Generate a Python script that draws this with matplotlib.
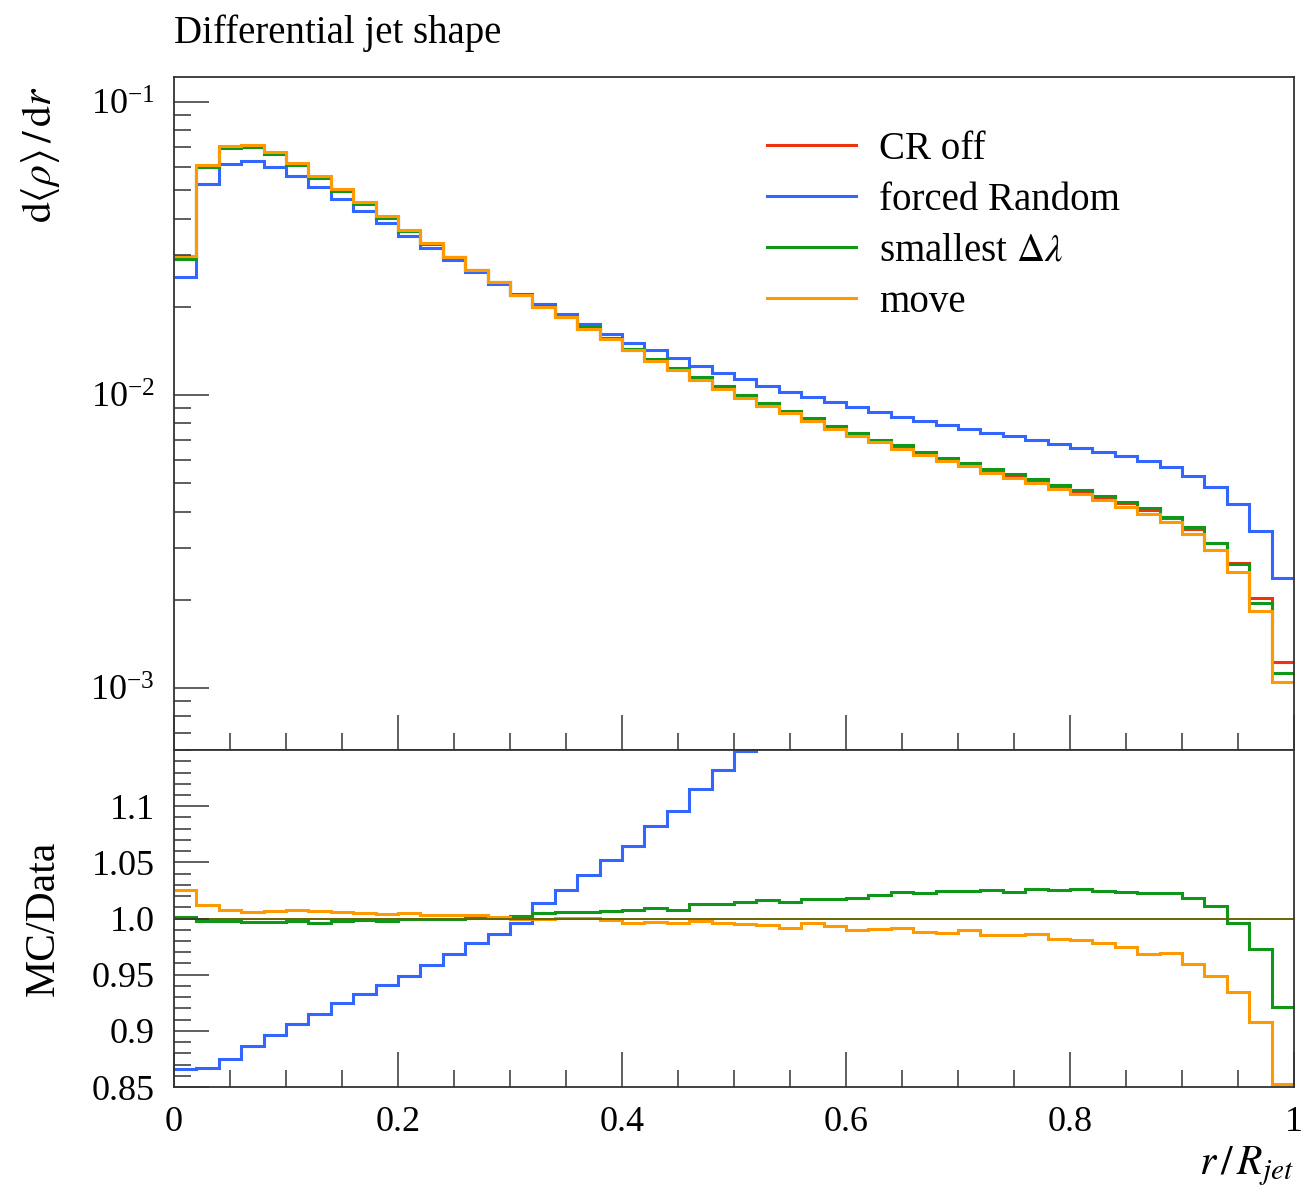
import numpy as np
import matplotlib
matplotlib.use('Agg')
import matplotlib.pyplot as plt
from matplotlib.ticker import MultipleLocator, LogLocator, NullFormatter

plt.rcParams['font.family'] = ['Liberation Serif', 'DejaVu Serif']
plt.rcParams['mathtext.fontset'] = 'stix'

# bin edges: 50 bins of width 0.02 in r/R_jet
edges = np.linspace(0, 1, 51)

# d<rho>/dr
cr_off = [0.0291, 0.0601, 0.0701, 0.0705, 0.0667, 0.0614, 0.0555, 0.0501, 0.0451, 0.0405,
          0.0364, 0.0329, 0.0295, 0.0266, 0.0243, 0.0220, 0.0200, 0.0184, 0.01683, 0.01551,
          0.01426, 0.01313, 0.01224, 0.0113, 0.01052, 0.00985, 0.00925, 0.00873, 0.00818, 0.00771,
          0.00732, 0.00696, 0.00661, 0.00631, 0.00604, 0.00579, 0.00551, 0.00528, 0.00507, 0.00488,
          0.00467, 0.00447, 0.00427, 0.00406, 0.0038, 0.0035, 0.00312, 0.00267, 0.00202, 0.00123]
forced_random = [0.0252, 0.0524, 0.0616, 0.0629, 0.0600, 0.0559, 0.0512, 0.0467, 0.0423, 0.0385,
                 0.0348, 0.0318, 0.0288, 0.0263, 0.0239, 0.0219, 0.0204, 0.01886, 0.01743, 0.0162,
                 0.0151, 0.0142, 0.01334, 0.01259, 0.01192, 0.01134, 0.01076, 0.01026, 0.00987, 0.00944,
                 0.0091, 0.00873, 0.00843, 0.00815, 0.00792, 0.00766, 0.00744, 0.00723, 0.00702, 0.00682,
                 0.0066, 0.0064, 0.00617, 0.00595, 0.00566, 0.0053, 0.00484, 0.00426, 0.00344, 0.00237]
smallest_dl = [0.0291, 0.0598, 0.0698, 0.0700, 0.0663, 0.0610, 0.0552, 0.0498, 0.0449, 0.0403,
               0.0363, 0.0328, 0.0295, 0.0266, 0.0243, 0.0221, 0.0201, 0.0185, 0.0171, 0.01565,
               0.01439, 0.0133, 0.01236, 0.0115, 0.01071, 0.00998, 0.00937, 0.0088, 0.00833, 0.00784,
               0.0074, 0.00704, 0.00675, 0.0064, 0.00611, 0.00586, 0.0056, 0.00537, 0.00516, 0.00494,
               0.00475, 0.00453, 0.00432, 0.0041, 0.00384, 0.00353, 0.00313, 0.00264, 0.00195, 0.001125]
move = [0.0299, 0.0610, 0.0710, 0.0713, 0.0675, 0.0621, 0.0560, 0.0506, 0.0455, 0.0407,
        0.0367, 0.0330, 0.0296, 0.0267, 0.0243, 0.0220, 0.01997, 0.0184, 0.01684, 0.01549,
        0.0142, 0.01309, 0.0122, 0.01128, 0.01048, 0.0098, 0.00919, 0.00866, 0.00815, 0.00766,
        0.00725, 0.0069, 0.00656, 0.00623, 0.00596, 0.00573, 0.00543, 0.0052, 0.005, 0.00479,
        0.00458, 0.00437, 0.00416, 0.00393, 0.00368, 0.00336, 0.00296, 0.00249, 0.00183, 0.00105]

# MC/Data ratios (CR off is the reference)
ratio_ref = [1.0] * 50
ratio_random = [0.866, 0.8667, 0.8747, 0.8866, 0.8964, 0.9065, 0.9149, 0.9244, 0.9324, 0.9405,
                0.9491, 0.9589, 0.9688, 0.9783, 0.9866, 0.9964, 1.0134, 1.0255, 1.039, 1.052,
                1.0649, 1.0827, 1.0958, 1.1155, 1.1327, 1.1488, 1.163, 1.175, 1.207, 1.224,
                1.243, 1.254, 1.275, 1.29, 1.31, 1.32, 1.35, 1.37, 1.38, 1.40,
                1.41, 1.43, 1.44, 1.47, 1.49, 1.51, 1.55, 1.60, 1.70, 1.93]
ratio_smallest = [1.0018, 0.9976, 0.9979, 0.997, 0.9973, 0.9976, 0.9964, 0.9979, 0.9985, 0.9979,
                  0.9994, 1.0, 1.0, 1.0003, 1.0006, 1.0027, 1.0045, 1.0055, 1.006, 1.0071,
                  1.0074, 1.0098, 1.0077, 1.0131, 1.0128, 1.0146, 1.0161, 1.0149, 1.0176, 1.0176,
                  1.0179, 1.0211, 1.0235, 1.0223, 1.0241, 1.0241, 1.025, 1.0235, 1.0259, 1.0253,
                  1.0262, 1.0244, 1.0232, 1.0226, 1.0223, 1.0179, 1.0113, 0.9964, 0.9732, 0.9214]
ratio_move = [1.0253, 1.0119, 1.008, 1.0057, 1.0068, 1.0074, 1.0065, 1.0054, 1.0051, 1.0039,
              1.0045, 1.003, 1.003, 1.003, 1.0015, 0.9994, 0.9997, 1.0003, 1.0003, 0.9985,
              0.9961, 0.9973, 0.9964, 0.9979, 0.9958, 0.9949, 0.994, 0.992, 0.9961, 0.9935,
              0.9902, 0.9908, 0.9920, 0.9884, 0.9875, 0.9902, 0.9851, 0.9857, 0.9863, 0.9818,
              0.9812, 0.978, 0.975, 0.9688, 0.969, 0.9595, 0.9491, 0.9342, 0.908, 0.853]

labels = ['CR off', 'forced Random', r'smallest $\Delta\lambda$', 'move']
colors = ['#EE3311', '#3366FF', '#109618', '#FF9900']

fig = plt.figure(figsize=(13.05, 11.94), dpi=100)
ax = fig.add_axes([0.1333, 0.3719, 0.8582, 0.5636])
axr = fig.add_axes([0.1333, 0.0896, 0.8582, 0.2822], sharex=ax)

lw = 2.2
for vals, lab, col in zip([cr_off, forced_random, smallest_dl, move], labels, colors):
    ax.stairs(vals, edges, color=col, lw=lw, label=lab, baseline=None)

axr.stairs(ratio_random, edges, color=colors[1], lw=lw, baseline=None)
axr.stairs(ratio_smallest, edges, color=colors[2], lw=lw, baseline=None)
axr.stairs(ratio_move, edges, color=colors[3], lw=lw, baseline=None)
axr.stairs(ratio_ref, edges, color='#666600', lw=1.4, baseline=None, zorder=1)

# upper panel
ax.set_yscale('log')
ax.set_xlim(0, 1)
ax.set_ylim(6.14e-4, 0.1217)
ax.yaxis.set_major_locator(LogLocator(base=10, numticks=10))
ax.yaxis.set_minor_locator(LogLocator(base=10, subs=np.arange(2, 10), numticks=10))
ax.yaxis.set_minor_formatter(NullFormatter())
ax.xaxis.set_major_locator(MultipleLocator(0.2))
ax.xaxis.set_minor_locator(MultipleLocator(0.05))
ax.tick_params(axis='x', labelbottom=False)

# ratio panel
axr.set_ylim(0.85, 1.15)
axr.set_yticks([0.85, 0.9, 0.95, 1.0, 1.05, 1.1])
axr.set_yticklabels(['0.85', '0.9', '0.95', '1.0', '1.05', '1.1'])
axr.yaxis.set_minor_locator(MultipleLocator(0.01))
axr.set_xticks([0, 0.2, 0.4, 0.6, 0.8, 1.0])
axr.set_xticklabels(['0', '0.2', '0.4', '0.6', '0.8', '1'])

for a in (ax, axr):
    a.tick_params(which='both', direction='in', left=True, right=False, top=False, bottom=True,
                  labelsize=26, width=1.1, color='#333333')
    a.tick_params(which='major', length=25, pad=14)
    a.tick_params(which='minor', length=12)
    for s in a.spines.values():
        s.set_linewidth(1.3)
        s.set_color('#333333')
axr.tick_params(axis='x', pad=14)

legend = ax.legend(loc='upper left', bbox_to_anchor=(0.498, 0.972), frameon=False,
                   fontsize=28, handlelength=2.3, handletextpad=0.6, labelspacing=0.36)

fig.text(174 / 1305, 1 - 33 / 1194, 'Differential jet shape', fontsize=28, va='center', ha='left')
fig.text(40 / 1305, 1 - 86 / 1194, r'$\mathrm{d}\langle\rho\rangle\,/\,\mathrm{d}r$',
         fontsize=30, rotation=90, va='top', ha='center')
fig.text(44 / 1305, 1 - 918 / 1194, 'MC/Data', fontsize=30, rotation=90, va='center', ha='center')
fig.text(1294 / 1305, 1 - 1166 / 1194, r'$r\,/\,R_{jet}$', fontsize=30, va='center', ha='right')

fig.savefig('out.png', dpi=100)
